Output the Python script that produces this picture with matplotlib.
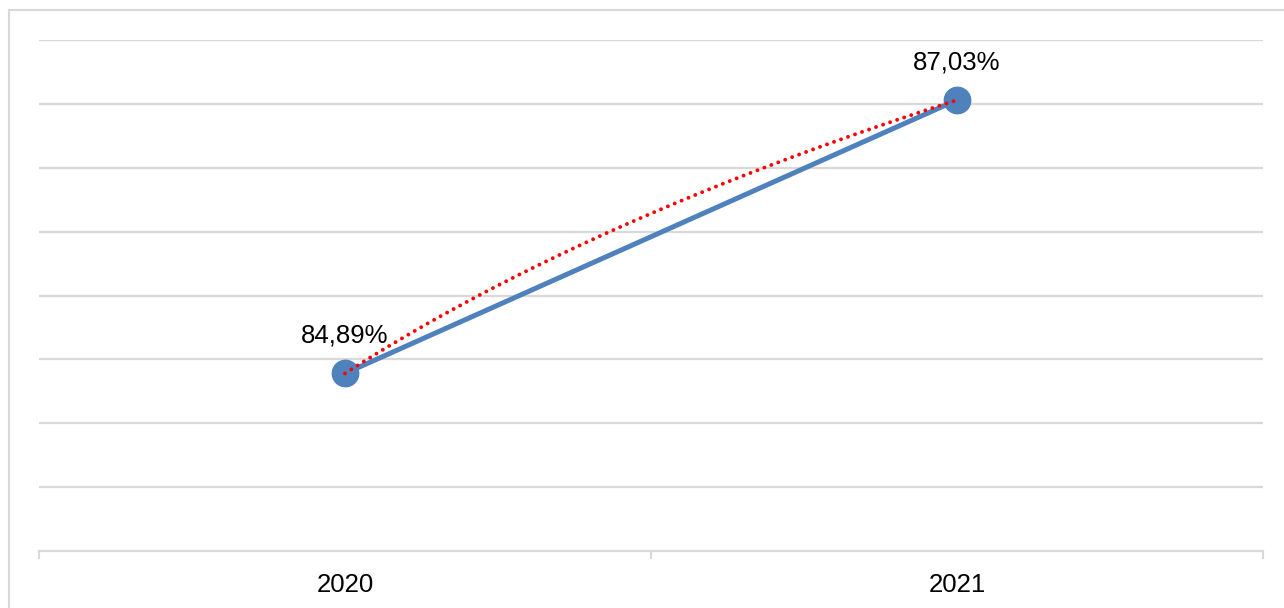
import numpy as np
import matplotlib
matplotlib.use("Agg")
import matplotlib.pyplot as plt
from matplotlib.patches import Rectangle

categories = ["2020", "2021"]
values = [84.89, 87.03]
labels = ["84,89%", "87,03%"]

plt.rcParams['font.family'] = ['Liberation Sans', 'DejaVu Sans']

W, H = 1284, 608
fig = plt.figure(figsize=(W/100, H/100), dpi=100)
ax = fig.add_axes([39/W, (H-551)/H, 1224/W, 511/H])

grid_c = '#d9d9d9'
fig.patches.append(Rectangle((9/W, -0.2), 2, (1-10/H)+0.2, transform=fig.transFigure,
                             fill=False, edgecolor=grid_c, lw=1.5, zorder=0))

x = np.arange(len(categories))
ax.set_xlim(-0.5, len(categories)-0.5)
ax.set_ylim(83.5, 87.5)
ax.set_yticks(np.arange(84.0, 87.51, 0.5))
ax.yaxis.grid(True, color=grid_c, lw=1.6)
ax.set_axisbelow(True)
ax.tick_params(axis='y', length=0, labelleft=False)
for s in ['left', 'right', 'top']:
    ax.spines[s].set_visible(False)
ax.spines['bottom'].set_color(grid_c)
ax.spines['bottom'].set_linewidth(1.6)

ax.set_xticks(np.arange(-0.5, len(categories), 1.0))
ax.set_xticklabels([])
ax.tick_params(axis='x', which='major', length=6, width=1.5, color=grid_c, direction='out')
ax.set_xticks(x, minor=True)
ax.set_xticklabels(categories, minor=True, fontsize=18.5)
ax.tick_params(axis='x', which='minor', length=0, pad=16)

ax.plot(x, values, color='#4F81BD', lw=3.6, marker='o', markersize=19, zorder=3, clip_on=False)

# logarithmic trendline
xx = x + 1
coef = np.polyfit(np.log(xx), values, 1)
xt = np.linspace(1, 2, 200)
yt = np.polyval(coef, np.log(xt))
ax.plot(xt - 1, yt, color='#FF0000', lw=2.8, linestyle=(0, (0.01, 1.9)),
        dash_capstyle='round', zorder=4, clip_on=False)

for xi, v, lab in zip(x, values, labels):
    ax.annotate(lab, (xi, v), xytext=(0, 27), textcoords='offset points',
                ha='center', va='center', fontsize=18.5, color='#000000')

fig.savefig("out.png", dpi=100)
